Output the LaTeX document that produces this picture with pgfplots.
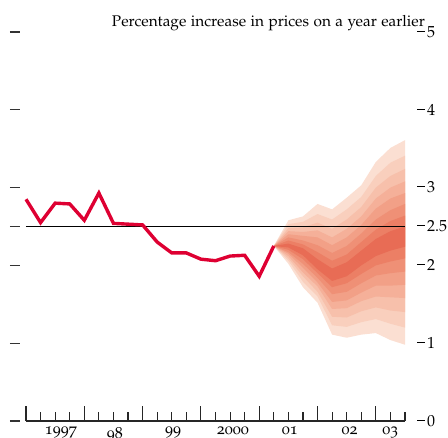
\documentclass[border=0pt]{standalone}
\usepackage[T1]{fontenc}
\usepackage[osf]{mathpazo}
\usepackage{graphicx}
\usepackage{pgfplots}
\pgfplotsset{compat=1.18}
\definecolor{fan1}{RGB}{251,223,210}
\definecolor{fan2}{RGB}{249,207,189}
\definecolor{fan3}{RGB}{247,192,171}
\definecolor{fan4}{RGB}{245,176,153}
\definecolor{fan5}{RGB}{242,160,135}
\definecolor{fan6}{RGB}{239,144,118}
\definecolor{fan7}{RGB}{236,127,101}
\definecolor{fan8}{RGB}{232,108,85}
\definecolor{rpix}{RGB}{222,0,50}
\newcommand{\tl}[1]{\scalebox{1.6}{#1}}
\begin{document}
\begin{tikzpicture}
% left detached dashes
\begin{axis}[
  at={(0,0)}, anchor=south west,
  scale only axis, width=379pt, height=389pt,
  xmin=0, xmax=26, ymin=0, ymax=5,
  axis line style={draw=none},
  xtick=\empty,
  ytick={0,1,2,2.5,3,4,5},
  ytick pos=left,
  major tick length=0pt,
  yticklabel={\textcolor{black!80}{\rule{10pt}{1.2pt}}},
  yticklabel style={anchor=east, inner sep=0pt, xshift=-6pt},
]
\addplot[draw=none] coordinates {(0,0)};
\end{axis}
\begin{axis}[
  at={(0,0)}, anchor=south west,
  scale only axis, width=379pt, height=389pt,
  xmin=0, xmax=26, ymin=0, ymax=5,
  clip=false,
  axis x line*=bottom, axis y line*=right,
  axis line style={-},
  y axis line style={draw=none},
  x axis line style={line width=1.2pt, color=black!85},
  tick align=inside,
  xtick={0,4,...,24}, xticklabels={},
  minor xtick={0,...,26},
  major tick length=15pt, minor tick length=9pt,
  every tick/.style={line width=1.1pt, color=black!85},
  extra x ticks={2.4,6.1,10.1,14.2,18.1,22.2,25},
  extra x tick labels={\tl{1997},\tl{98},\tl{99},\tl{2000},\tl{01},\tl{02},\tl{03}},
  extra x tick style={major tick length=0pt},
  xticklabel style={inner sep=0pt, anchor=north, yshift=-6pt},
  ytick={0,1,2,2.5,3,4,5},
  ytick style={draw=none},
  yticklabel pos=right,
  yticklabel={\rule[5.5pt]{8pt}{1.1pt}\hspace{2pt}\tl{$\pgfmathprintnumber{\tick}$}},
  yticklabel style={anchor=west, inner sep=0pt, xshift=12pt},
]
% fan chart: nested bands, outermost first
\addplot[fill=fan1, draw=none] coordinates {(17,2.25) (18,2.58) (19,2.63) (20,2.79) (21,2.72) (22,2.87) (23,3.03) (24,3.33) (25,3.51) (26,3.61)
  (26,0.98) (25,1.04) (24,1.13) (23,1.11) (22,1.07) (21,1.11) (20,1.52) (19,1.72) (18,2.02)} -- cycle;
\addplot[fill=fan2, draw=none] coordinates {(17,2.25) (18,2.53) (19,2.56) (20,2.66) (21,2.59) (22,2.72) (23,2.88) (24,3.15) (25,3.32) (26,3.41)
  (26,1.20) (25,1.25) (24,1.31) (23,1.27) (22,1.21) (21,1.23) (20,1.60) (19,1.79) (18,2.06)} -- cycle;
\addplot[fill=fan3, draw=none] coordinates {(17,2.25) (18,2.48) (19,2.49) (20,2.55) (21,2.47) (22,2.59) (23,2.75) (24,3.00) (25,3.15) (26,3.24)
  (26,1.40) (25,1.42) (24,1.46) (23,1.41) (22,1.33) (21,1.34) (20,1.66) (19,1.86) (18,2.09)} -- cycle;
\addplot[fill=fan4, draw=none] coordinates {(17,2.25) (18,2.44) (19,2.43) (20,2.45) (21,2.36) (22,2.47) (23,2.63) (24,2.86) (25,3.00) (26,3.08)
  (26,1.58) (25,1.59) (24,1.60) (23,1.54) (22,1.45) (21,1.44) (20,1.73) (19,1.91) (18,2.12)} -- cycle;
\addplot[fill=fan5, draw=none] coordinates {(17,2.25) (18,2.40) (19,2.38) (20,2.36) (21,2.26) (22,2.36) (23,2.52) (24,2.73) (25,2.86) (26,2.93)
  (26,1.75) (25,1.74) (24,1.74) (23,1.65) (22,1.55) (21,1.53) (20,1.78) (19,1.97) (18,2.15)} -- cycle;
\addplot[fill=fan6, draw=none] coordinates {(17,2.25) (18,2.36) (19,2.32) (20,2.26) (21,2.16) (22,2.25) (23,2.41) (24,2.59) (25,2.71) (26,2.79)
  (26,1.92) (25,1.90) (24,1.87) (23,1.77) (22,1.66) (21,1.63) (20,1.84) (19,2.02) (18,2.17)} -- cycle;
\addplot[fill=fan7, draw=none] coordinates {(17,2.25) (18,2.32) (19,2.27) (20,2.17) (21,2.06) (22,2.14) (23,2.30) (24,2.46) (25,2.57) (26,2.64)
  (26,2.09) (25,2.05) (24,2.00) (23,1.89) (22,1.77) (21,1.72) (20,1.90) (19,2.08) (18,2.20)} -- cycle;
\addplot[fill=fan8, draw=none] coordinates {(17,2.25) (18,2.28) (19,2.22) (20,2.08) (21,1.96) (22,2.04) (23,2.19) (24,2.34) (25,2.44) (26,2.50)
  (26,2.24) (25,2.19) (24,2.12) (23,2.00) (22,1.86) (21,1.80) (20,1.95) (19,2.13) (18,2.23)} -- cycle;
% inflation target line
\addplot[black, line width=1.1pt] coordinates {(0,2.5) (26,2.5)};
% RPIX outturns
\addplot[rpix, line width=3.4pt, line join=miter] coordinates {
  (0,2.85) (1,2.55) (2,2.80) (3,2.79) (4,2.58) (5,2.93) (6,2.54) (7,2.53) (8,2.52)
  (9,2.30) (10,2.16) (11,2.16) (12,2.08) (13,2.06) (14,2.12) (15,2.13) (16,1.86) (17,2.25)};
\node[anchor=base east, inner sep=0pt] at (rel axis cs:1.053,1.014) {\scalebox{1.54}{Percentage increase in prices on a year earlier}};
\end{axis}
\pgfresetboundingbox
\path[use as bounding box] (-26pt,-17pt) rectangle (422pt,421pt);
\end{tikzpicture}
\end{document}
